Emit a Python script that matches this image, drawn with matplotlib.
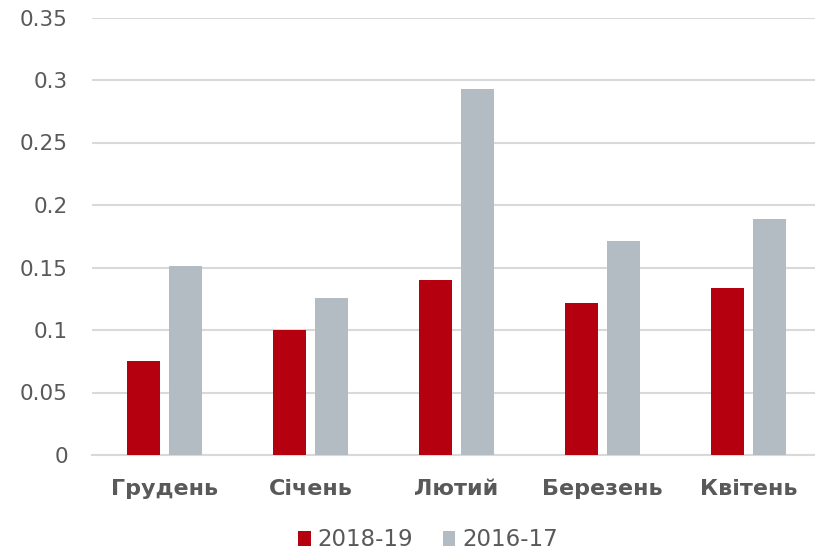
import matplotlib
matplotlib.use("Agg")
import matplotlib.pyplot as plt
import numpy as np

categories = ["Грудень", "Січень", "Лютий", "Березень", "Квітень"]
series_2018 = [0.075, 0.100, 0.140, 0.122, 0.134]
series_2016 = [0.151, 0.126, 0.293, 0.171, 0.189]
series_names = ["2018-19", "2016-17"]
yticks = [0, 0.05, 0.1, 0.15, 0.2, 0.25, 0.3, 0.35]
ytick_labels = ["0", "0.05", "0.1", "0.15", "0.2", "0.25", "0.3", "0.35"]

red = "#b5000f"
gray = "#b3bbc3"
text_color = "#595959"
grid_color = "#d9d9d9"

plt.rcParams["font.family"] = ["DejaVu Sans"]

fig = plt.figure(figsize=(8.15, 5.51), dpi=100)
W, H = 815, 551
left, right, top, bottom = 91.5, 821.5, 17.5, 455
ax = fig.add_axes([left / W, 1 - bottom / H, (right - left) / W, (bottom - top) / H])

x = np.arange(len(categories))
bw = 0.226
off = 0.144
ax.bar(x - off, series_2018, width=bw, color=red, label=series_names[0], zorder=3)
ax.bar(x + off, series_2016, width=bw, color=gray, label=series_names[1], zorder=3)

ax.set_xlim(-0.5, len(categories) - 0.5)
ax.set_ylim(0, 0.35)
ax.set_yticks(yticks)
ax.set_yticklabels(ytick_labels)
ax.set_xticks(x)
ax.set_xticklabels(categories, fontweight="bold")

ax.yaxis.grid(True, color=grid_color, linewidth=1.5, zorder=0)
ax.set_axisbelow(True)
for s in ["top", "right", "left"]:
    ax.spines[s].set_visible(False)
ax.spines["bottom"].set_color(grid_color)
ax.spines["bottom"].set_linewidth(1.5)
ax.tick_params(axis="both", length=0, colors=text_color)
ax.tick_params(axis="y", pad=17, labelsize=15.5)
ax.tick_params(axis="x", pad=17, labelsize=16)

handles, labels = ax.get_legend_handles_labels()
fig.legend(handles, labels, loc="center", bbox_to_anchor=(428 / W, 1 - 540 / H),
           ncol=2, frameon=False, fontsize=16.5, labelcolor=text_color,
           handlelength=0.55, handleheight=0.6, handletextpad=0.3, columnspacing=1.3)

fig.savefig("out.png", dpi=100)
